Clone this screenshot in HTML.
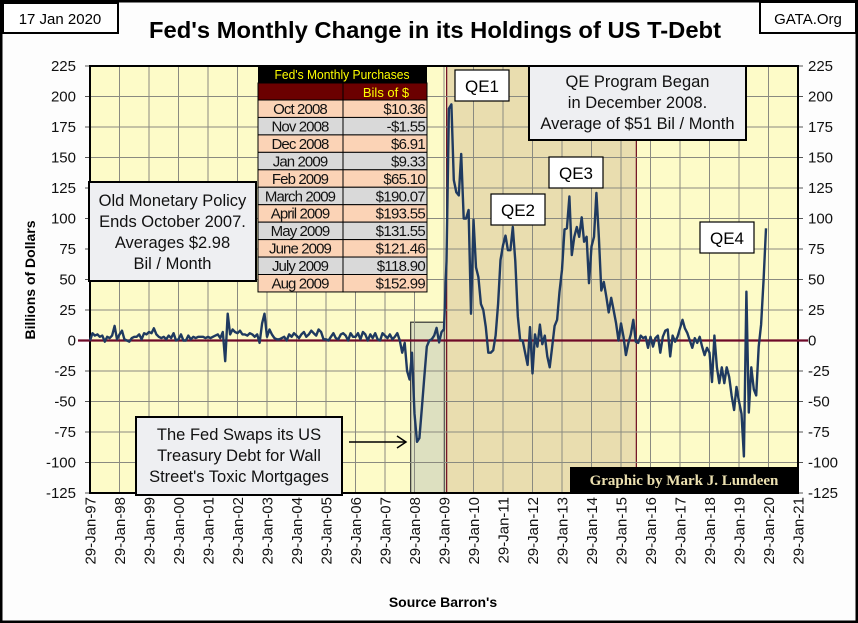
<!DOCTYPE html>
<html><head><meta charset="utf-8"><style>
html,body{margin:0;padding:0;background:#fff;}
svg{display:block;font-family:"Liberation Sans",sans-serif;}
</style></head><body>
<svg id="chart" width="858" height="623" viewBox="0 0 858 623">
<rect x="1" y="1" width="856" height="621" fill="#fdfdfd" stroke="#000" stroke-width="3"/>
<g><rect x="3" y="3" width="115" height="30" fill="#fff" stroke="#000" stroke-width="2"/><text x="60" y="24" font-size="15" text-anchor="middle">17 Jan 2020</text></g>
<text x="435" y="38" font-size="23" font-weight="bold" text-anchor="middle" textLength="572" lengthAdjust="spacingAndGlyphs">Fed's Monthly Change in its Holdings of US T-Debt</text>
<g><rect x="760" y="2" width="96" height="31" fill="#fff" stroke="#000" stroke-width="2"/><text x="808" y="24" font-size="15" text-anchor="middle">GATA.Org</text></g>
<rect x="90" y="66" width="708" height="427" fill="#fdfbc8"/>
<g id="shades"></g>
<g id="grid"></g>
<g id="axes"></g>
<g id="series"></g>
<g id="notes"></g>
<text x="443" y="607" font-size="14" font-weight="bold" text-anchor="middle">Source Barron's</text>
<text transform="translate(35,280) rotate(-90)" font-size="14" font-weight="bold" text-anchor="middle">Billions  of Dollars</text>
</svg>
<script>
const yTicks = [225,200,175,150,125,100,75,50,25,0,-25,-50,-75,-100,-125];
const xYears = [1997,1998,1999,2000,2001,2002,2003,2004,2005,2006,2007,2008,2009,2010,2011,2012,2013,2014,2015,2016,2017,2018,2019,2020,2021];
const xLabels = ["29-Jan-97","29-Jan-98","29-Jan-99","29-Jan-00","29-Jan-01","29-Jan-02","29-Jan-03","29-Jan-04","29-Jan-05","29-Jan-06","29-Jan-07","29-Jan-08","29-Jan-09","29-Jan-10","29-Jan-11","29-Jan-12","29-Jan-13","29-Jan-14","29-Jan-15","29-Jan-16","29-Jan-17","29-Jan-18","29-Jan-19","29-Jan-20","29-Jan-21"];
const startYear = 1997;
const monthlyChange = [
0,6,4,5,3,4,-1,3,2,4,12,1,
5,8,1,0,-1,2,3,3,5,1,6,5,
7,6,10,5,3,2,3,1,4,2,6,0,
1,5,0,0,4,1,3,2,3,3,3,2,
3,2,3,4,5,2,7,-17,22,5,9,7,
6,8,5,5,4,6,5,3,5,-2,14,22,
3,9,5,2,1,1,2,3,0,5,3,6,
4,2,5,7,3,5,8,6,4,9,7,1,
1,0,3,6,2,1,5,6,4,0,6,3,
3,6,1,7,5,0,5,2,6,1,0,6,
4,2,5,1,3,6,0,-10,-2,-25,-32,-10,
-60,-83,-80,-55,-30,-5,0,1,4,10.36,-1.55,6.91,
9.33,65.1,190.07,193.55,131.55,121.46,118.9,152.99,100,100,107,22,
99,60,52,30,25,11,-10,-10,-8,4,30,66,
78,86,74,74,93,65,20,0,0,-10,-20,11,
-27,5,-5,13,-3,4,-13,-22,-5,12,17,40,
58,91,92,118,70,85,93,85,101,81,85,47,
77,85,121,84,41,48,36,23,35,25,14,0,
14,3,-12,-2,5,17,-1,-2,4,2,3,-6,
3,-5,2,4,-10,3,8,9,-13,4,-1,3,
10,17,10,6,0,-6,2,-2,3,-5,-12,-6,
-10,-34,4,-22,-35,-22,-35,-22,-30,-45,-57,-38,
-50,-60,-95,40,-59,-22,-40,-45,-5,13,50,92];
const tableMonths = ["Oct 2008","Nov 2008","Dec 2008","Jan 2009","Feb 2009","March 2009","April 2009","May 2009","June 2009","July 2009","Aug 2009"];
const tableValues = ["$10.36","-$1.55","$6.91","$9.33","$65.10","$190.07","$193.55","$131.55","$121.46","$118.90","$152.99"];
const swapRange = [2007.87, 2009.02];
const qeRange = [2009.09, 2015.52];

const NS="http://www.w3.org/2000/svg";
const L=90,R=798,T=66,B=493,yMin=-125,yMax=225,x0=1997,x1=2021;
const X=yr=>L+(yr-x0)/(x1-x0)*(R-L);
const Y=v=>T+(yMax-v)/(yMax-yMin)*(B-T);
function mk(tag,attrs,parent,txt){const e=document.createElementNS(NS,tag);for(const k in attrs)e.setAttribute(k,attrs[k]);if(txt!==undefined)e.textContent=txt;parent.appendChild(e);return e;}
const shades=document.getElementById('shades'),grid=document.getElementById('grid'),axes=document.getElementById('axes'),series=document.getElementById('series'),notes=document.getElementById('notes');

let r=mk('rect',{x:X(qeRange[0]),y:T,width:X(qeRange[1])-X(qeRange[0]),height:B-T,fill:'#e9ddaf',stroke:'#6e0a1e','stroke-width':1.2},shades);


r=mk('rect',{x:X(swapRange[0]),y:Y(15),width:X(swapRange[1])-X(swapRange[0]),height:B-Y(15),fill:'#dde0c0',stroke:'#333','stroke-width':1.2},shades);



xYears.forEach((yr,i)=>{
 const l=mk('line',{x1:X(yr),x2:X(yr),y1:T,y2:B,stroke:'#8a8a80','stroke-width':1},grid);
 
 
 const t=mk('text',{transform:`translate(${X(yr)+5.5},497) rotate(-90)`,'font-size':15,'text-anchor':'end',fill:'#111'},axes,xLabels[i]);
 
 
});
yTicks.forEach(v=>{
 const l=mk('line',{x1:L,x2:R,y1:Y(v),y2:Y(v),stroke:'#8a8a80','stroke-width':1},grid);
 
 
 mk('line',{x1:L-5,x2:L,y1:Y(v),y2:Y(v),stroke:'#555'},axes);
 mk('line',{x1:R,x2:R+5,y1:Y(v),y2:Y(v),stroke:'#555'},axes);
 const a=mk('text',{x:76,y:Y(v)+5,'font-size':15,'text-anchor':'end',fill:'#111'},axes,String(v));
 
 
 const b=mk('text',{x:808,y:Y(v)+5,'font-size':15,fill:'#111'},axes,String(v));
 
 
});
mk('rect',{x:L,y:T,width:R-L,height:B-T,fill:'none',stroke:'#000','stroke-width':2},axes);
const zl=mk('line',{x1:L-12,x2:R+10,y1:Y(0),y2:Y(0),stroke:'#6e0a28','stroke-width':2.2},series);


const pts=monthlyChange.map((v,i)=>X(startYear+i/12).toFixed(1)+','+Y(v).toFixed(1)).join(' ');
const pl=mk('polyline',{points:pts,fill:'none',stroke:'#1f3a60','stroke-width':2.4,'stroke-linejoin':'round'},series);



// table
const tb=mk('g',{},notes);


mk('rect',{x:258,y:66,width:169,height:17,fill:'#000'},tb);
mk('text',{x:342,y:79,'font-size':13,fill:'#ffff00','text-anchor':'middle',textLength:135,lengthAdjust:'spacingAndGlyphs'},tb,"Fed's Monthly Purchases");
mk('rect',{x:258,y:83,width:169,height:17,fill:'#6b0000',stroke:'#000'},tb);
mk('line',{x1:343,x2:343,y1:83,y2:100,stroke:'#000'},tb);
mk('text',{x:386,y:97,'font-size':13,fill:'#ffff00','text-anchor':'middle'},tb,"Bils of $");
tableMonths.forEach((m,i)=>{
 const y=100+i*17.45;
 mk('rect',{x:258,y:y,width:85,height:17.45,fill:i%2?'#d9d9d9':'#fbd3b6',stroke:'#000','stroke-width':1},tb);
 mk('rect',{x:343,y:y,width:84,height:17.45,fill:i%2?'#d9d9d9':'#fbd3b6',stroke:'#000','stroke-width':1},tb);
 mk('text',{x:300,y:y+14,'font-size':15,'text-anchor':'middle',fill:'#111','letter-spacing':'-0.9'},tb,m);
 mk('text',{x:425,y:y+14,'font-size':15,'text-anchor':'end',fill:'#111','letter-spacing':'-0.7'},tb,tableValues[i]);
});
function box(x,y,w,h,lines,name,fs,lh,first){
 const g=mk('g',{},notes);
 
 
 mk('rect',{x:x,y:y,width:w,height:h,fill:'#eeeff2',stroke:'#000','stroke-width':2},g);
 lines.forEach((s,i)=>mk('text',{x:x+w/2,y:y+first+i*lh,'font-size':fs,'text-anchor':'middle',fill:'#111'},g,s));
}
box(89,182,167,99,["Old Monetary Policy","Ends October 2007.","Averages $2.98","Bil / Month"],'old-policy-note',16.5,21,24);
box(529,66,217,74,["QE Program Began","in December 2008.","Average of $51 Bil / Month"],'qe-program-note',16.5,21,21);
box(136,417,206,78,["The Fed Swaps its US","Treasury Debt for Wall","Street's Toxic Mortgages"],'swap-note',16.5,21,23);
function lab(x,y,s,name){const g=mk('g',{},notes);mk('rect',{x:x,y:y,width:54,height:31,fill:'#fff',stroke:'#000','stroke-width':1.2},g);mk('text',{x:x+27,y:y+22,'font-size':17,'text-anchor':'middle'},g,s);}
lab(455,70,'QE1','qe1-label');lab(491,194,'QE2','qe2-label');lab(549,157,'QE3','qe3-label');lab(700,222,'QE4','qe4-label');
const ar=mk('g',{},notes);


mk('line',{x1:349,x2:405,y1:442,y2:442,stroke:'#000','stroke-width':1.5},ar);
mk('path',{d:'M397,436 L406,442 L397,448',fill:'none',stroke:'#000','stroke-width':1.5},ar);
const cr=mk('g',{},notes);


mk('rect',{x:570,y:467,width:228,height:26,fill:'#000'},cr);
mk('text',{x:684,y:485,'font-size':15,'font-weight':'bold','font-family':'Liberation Serif, serif',fill:'#ece0b0','text-anchor':'middle'},cr,'Graphic by Mark J. Lundeen');
</script>
</body></html>
